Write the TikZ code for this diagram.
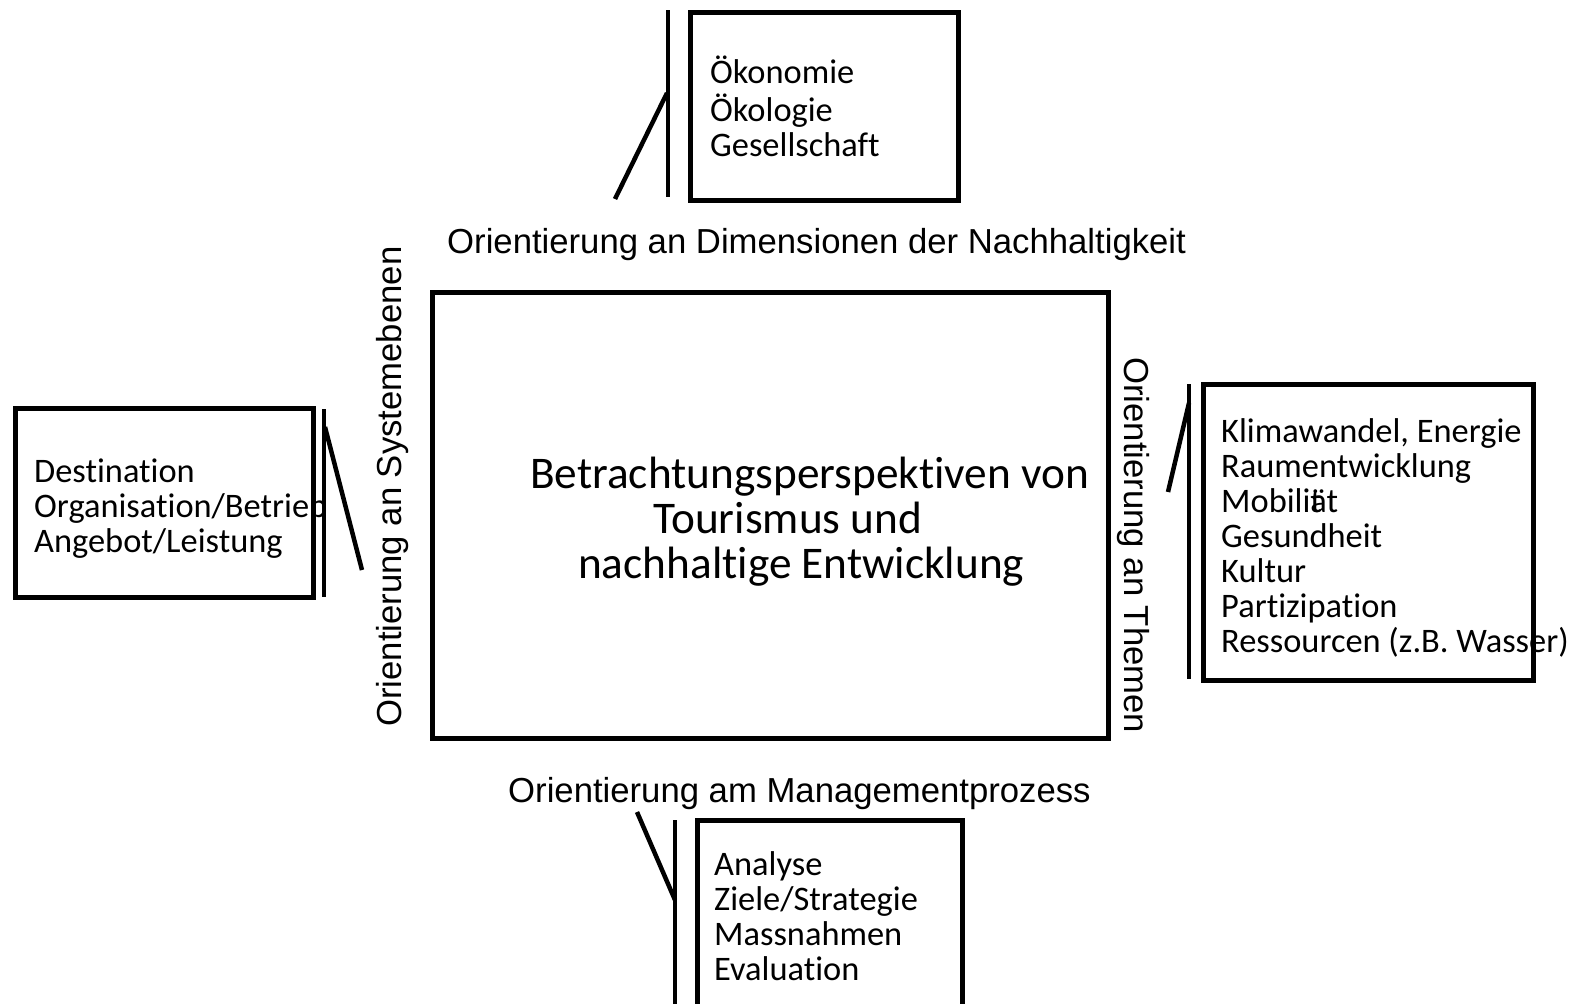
\documentclass[tikz,border=0pt]{standalone}
\usepackage{fontspec}
\setmainfont{Carlito}[RawFeature={-liga}]
\newfontfamily\arialfont{Liberation Sans}
\newcommand{\mylines}[1]{\begin{tabular}[t]{@{}l@{}}#1\end{tabular}}
\begin{document}
\begin{tikzpicture}[x=1pt,y=-1pt,
  boxnode/.style={draw, line width=5pt, inner sep=0pt, outer sep=0pt},
  barline/.style={line width=4.5pt},
  linktxt/.style={font=\arialfont\fontsize{34.7}{40}\selectfont, inner sep=0pt, anchor=base west},
  boxtxt/.style={font=\fontsize{34.4}{35}\selectfont, inner sep=0pt, anchor=base west},
]
\useasboundingbox (0,0) rectangle (1575,1004);
\clip (0,0) rectangle (1575,1004);
\fill[white] (0,0) rectangle (1575,1004);

% boxes
\node[boxnode, minimum width=676pt, minimum height=446pt] (center) at (770,515) {};
\node[boxnode, minimum width=268pt, minimum height=188pt] (topbox) at (824,106) {};
\node[boxnode, minimum width=298pt, minimum height=189pt] (leftbox) at (164,502.5) {};
\node[boxnode, minimum width=330pt, minimum height=296pt] (rightbox) at (1368,532) {};
\node[boxnode, minimum width=265pt, minimum height=210pt] (botbox) at (829.5,925) {};

% texts
\node[anchor=base west, inner sep=0pt, font=\fontsize{45.3}{45}\selectfont] (ctxt) at (530,488)
  {\mylines{Betrachtungsperspektiven von\\\hspace*{123pt}Tourismus und\\\hspace*{48pt}nachhaltige Entwicklung}};
\node[boxtxt] (toptxt) at (710,83) {\mylines{Ökonomie\\Ökologie\\Gesellschaft}};
\node[boxtxt] (lefttxt) at (34,482) {\mylines{Destination\\Organisation/Betrieb\\Angebot/Leistung}};
\node[boxtxt] (righttxt) at (1221,442) {\mylines{Klimawandel, Energie\\Raumentwicklung\\Mobili\rlap{t}ät\\Gesundheit\\Kultur\\Partizipation\\Ressourcen (z.B. Wasser)}};
\node[boxtxt] (bottxt) at (714,875) {\mylines{Analyse\\Ziele/Strategie\\Massnahmen\\Evaluation}};

% labels
\node[linktxt] (toplabel) at (447,253) {Orientierung an Dimensionen der Nachhaltigkeit};
\node[linktxt] (botlabel) at (508,802) {Orientierung am Managementprozess};
\node[linktxt, rotate=90] (leftlabel) at (401,727) {Orientierung an Systemebenen};
\node[linktxt, rotate=-90] (rightlabel) at (1124,357) {Orientierung an Themen};

% bars and links
\coordinate (tbA) at (668,10);   \coordinate (tbB) at (668,197);
\coordinate (tj) at (667,93);    \coordinate (tf) at (615,199);
\draw[barline] (tbA) -- (tbB);
\draw[barline] (tj) -- (tf);

\coordinate (lbA) at (324,409);  \coordinate (lbB) at (324,597);
\coordinate (lj) at (325,427);   \coordinate (lf) at (362,570);
\draw[barline] (lbA) -- (lbB);
\draw[barline] (lj) -- (lf);

\coordinate (rbA) at (1189,384); \coordinate (rbB) at (1189,679);
\coordinate (rj) at (1189,403);  \coordinate (rf) at (1168,492);
\draw[barline] (rbA) -- (rbB);
\draw[barline] (rj) -- (rf);

\coordinate (bbA) at (675,820);  \coordinate (bbB) at (675,1015);
\coordinate (bj) at (675,900);   \coordinate (bf) at (637,812);
\draw[barline] (bbA) -- (bbB);
\draw[barline] (bj) -- (bf);
\end{tikzpicture}
\end{document}
